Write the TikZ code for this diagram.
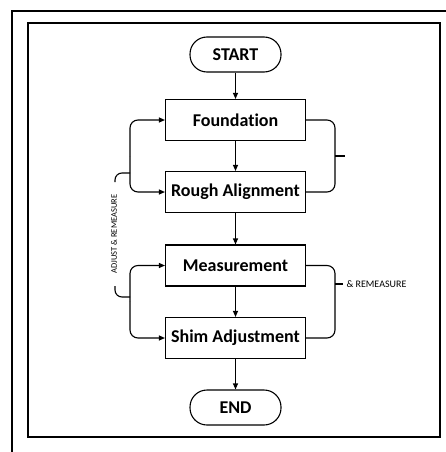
\documentclass[tikz,border=0pt]{standalone}
\usepackage{fontspec}
\setmainfont[Ligatures=NoCommon]{Carlito}
\usetikzlibrary{positioning, arrows.meta}

\begin{document}
\begin{tikzpicture}
	[x=1pt, y=1pt, on grid, line width=1.1pt, >={Triangle[length=6pt, width=5pt]},
	 process/.style={draw, minimum width=140pt, minimum height=41pt, font=\bfseries\fontsize{18}{20}\selectfont},
	 terminal/.style={draw, rounded corners=17pt, minimum width=91pt, minimum height=35pt, font=\bfseries\fontsize{18}{20}\selectfont},
	 note/.style={font=\fontsize{8.5}{10}\selectfont, inner sep=0pt}]
   \useasboundingbox (0,0) rectangle (446,-452);
   % frames
   \draw[line width=1.6pt] (446,-11) -- (12,-11) -- (12,-452);
   \draw[line width=1.6pt] (28,-23) rectangle (440,-437);
   \node[terminal] (start) at (235.5,-54.5) {START};
   \node[process] (found) [below=65.5pt of start] {Foundation};
   \node[process] (rough) [below=72pt of found] {Rough Alignment};
   \node[process] (meas) [below=73.5pt of rough] {Measurement};
   \node[process] (shim) [below=72.5pt of meas] {Shim Adjustment};
   \node[terminal] (end) [below=69.5pt of shim] {END};
   \coordinate (lup) at (130,-156);
   \coordinate (llow) at (130,-301.75);
   \coordinate (rup) at (335,-156);
   \coordinate (rlow) at (335,-284);
   \node[note, rotate=90] (adj) at (114,-234) {ADJUST \& REMEASURE};
   \node[note, anchor=west, font=\fontsize{10}{12}\selectfont] (rem) at (346,-284) {\& REMEASURE};
       \path[->]
    (start) edge (found)
    (found) edge (rough)
    (rough) edge (meas)
    (meas) edge (shim)
    (shim) edge (end);
   % loops on the left
   \draw[->, rounded corners=8pt] (lup) |- (found.west);
   \draw[->, rounded corners=8pt] (lup) |- (rough.west);
   \draw[->, rounded corners=8pt] (llow) |- (meas.west);
   \draw[->, rounded corners=8pt] (llow) |- (shim.west);
   \draw[rounded corners=7pt] (130,-173) -| (115,-182);
   \draw[rounded corners=7pt] (115,-286) |- (130,-297);
   % brackets on the right
   \draw[rounded corners=8pt] (found.east) -| (rup) |- (rough.east);
   \draw (rup) -- ++(10,0);
   \draw[rounded corners=8pt] (meas.east) -| (rlow) |- (shim.east);
   \draw (rlow) -- ++(8,0);
\end{tikzpicture}
\end{document}
